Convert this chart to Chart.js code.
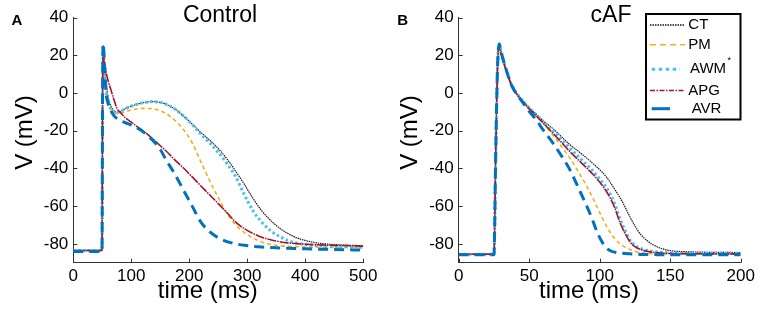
<!DOCTYPE html>
<html>
<head>
<meta charset="utf-8">
<script src="https://cdn.jsdelivr.net/npm/chart.js@4/dist/chart.umd.min.js"></script>
<style>
  html, body { margin: 0; padding: 0; background: #fff; }
  #wrap { position: relative; width: 765px; height: 314px; overflow: hidden; }
  .panel { position: absolute; top: 0; height: 314px; }
  #panelA { left: 0; width: 380px; }
  #panelB { left: 380px; width: 385px; }
</style>
</head>
<body>
<div id="wrap">
  <div class="panel" id="panelA"><canvas id="chartA" width="380" height="314"></canvas></div>
  <div class="panel" id="panelB"><canvas id="chartB" width="385" height="314"></canvas></div>
</div>
<script>
// ---- data (time in ms, voltage in mV) ----
const seriesNames = ["CT", "PM", "AWM", "APG", "AVR"];

// panel A: Control
const timeA = [0, 49.5, 50.5, 51.5, 54, 57, 60, 65, 70, 75, 80, 90, 100, 110, 120, 135, 150, 160, 175, 190,
  205, 220, 235, 250, 265, 280, 295, 310, 325, 340, 355, 370, 385, 400, 420, 450, 500];
const ctA = [-83.5, -83.5, 0, 25, 12, 4, -2, -7, -9.5, -10.2, -10, -8.3, -7, -6, -5.2, -4.6, -5, -6, -8.5, -12.2,
  -16.5, -21, -25, -29.5, -35, -41.5, -48.5, -56, -62.5, -67.5, -71.5, -74.5, -76.8, -78.2, -79.5, -80.4, -81];
const pmA = [-83.5, -83.5, 0, 21, 8, 0, -5, -9, -10.5, -11, -10.8, -10, -9, -8.4, -8.2, -8.3, -9.5, -11, -14.5, -19.4,
  -26.5, -36.5, -46.5, -55.5, -64, -70, -74, -77, -79, -80.3, -81, -81.3, -81.5, -81.7, -81.8, -81.9, -82];
const awmA = [-83.5, -83.5, 0, 25, 8, 0, -5, -8.5, -10, -10.5, -10, -8.3, -7, -6, -5.2, -4.6, -5, -6, -8.5, -12.2,
  -16.8, -21.8, -26.5, -31.5, -37.5, -44.5, -54, -62.5, -68.5, -73, -76, -78.2, -79.6, -80.3, -80.9, -81.3, -81.7];
const apgA = [-83.5, -83.5, 0, 22, 16, 10.5, 6.5, 1.5, -3.5, -8, -10, -13.2, -15.5, -17.8, -20, -23.8, -28, -30.8, -35.5, -39.8,
  -44.5, -49.3, -54, -58.7, -63.5, -68.5, -72, -74.5, -76.5, -77.8, -78.8, -79.5, -79.9, -80.2, -80.5, -80.8, -81.2];
const avrA = [-84, -84, 0, 26, 14, -1, -5.5, -9.5, -12, -13.5, -14.5, -15.8, -17, -18.5, -20.5, -24.5, -30, -35.5, -43, -51.5,
  -60, -68.5, -73.5, -76.8, -78.8, -80, -80.8, -81.3, -81.7, -82, -82.2, -82.4, -82.5, -82.6, -82.8, -83, -83.3];

// panel B: cAF
const timeB = [0, 25, 26.3, 27.6, 28.8, 30, 33, 37.5, 42, 46, 50, 55, 60, 67, 73, 79, 85, 91, 95, 98,
  101.5, 105, 108, 111, 114, 118, 121.5, 125, 129, 134, 138, 144, 150, 162, 180, 200];
const ctB = [-85.5, -85.5, -30, 15, 26, 22, 14, 4.5, -1, -4.5, -7.8, -11.3, -14.8, -19, -23.3, -27.5, -31, -34.7, -37.3, -39.3,
  -41.8, -44.8, -48, -51.5, -55, -60.5, -65.8, -70.5, -75, -78.5, -80.6, -82.5, -83.6, -84.2, -84.5, -84.6];
const pmB = [-85.5, -85.5, -30, 15, 25.5, 21.5, 13.8, 4.2, -1.3, -4.9, -8.4, -12.2, -16.2, -22.5, -28.5, -34.7, -42, -49.7, -55.5, -60.3,
  -65.8, -70.9, -74.5, -77.5, -79.7, -81.8, -83, -84, -84.6, -85, -85.2, -85.3, -85.4, -85.5, -85.5, -85.5];
const awmB = [-85.5, -85.5, -30, 15, 26, 22, 14, 4.5, -1.2, -4.7, -8, -11.6, -15.3, -20.2, -24.8, -29.4, -33.8, -38.2, -41.2, -43.8,
  -47, -50.5, -54.5, -59.5, -66, -73, -78, -80.8, -82.4, -83.5, -84, -84.5, -84.8, -85, -85, -85];
const apgB = [-85.5, -85.5, -30, 15, 25, 21, 13.5, 4, -1.5, -5, -8.5, -12.2, -16, -21.5, -26.3, -31.2, -35.6, -40, -43, -45.5,
  -48.7, -52.5, -56.5, -61.5, -68, -74.5, -79, -81.5, -83, -84, -84.5, -84.9, -85.1, -85.2, -85.3, -85.3];
const avrB = [-85.8, -85.8, -30, 15, 26, 22, 14, 4, -1.6, -5.6, -9.7, -14.3, -19.7, -26.7, -33.5, -40.9, -50.5, -60.3, -67.5, -73.5,
  -78.8, -82.4, -83.8, -84.5, -84.8, -85.1, -85.3, -85.5, -85.6, -85.7, -85.7, -85.8, -85.8, -85.8, -85.8, -85.8];

const xTicksA = [0, 100, 200, 300, 400, 500];
const xTicksB = [0, 50, 100, 150, 200];
const yTicks = [-80, -60, -40, -20, 0, 20, 40];

// ---- look ----
const FONT = "'Liberation Sans', Arial, Helvetica, sans-serif";
const AXIS_COLOR = "#333";

const styles = {
  CT:  { color: "#1a1a1a", width: 1.2, dash: [1.5, 0.8],        order: 4 },
  PM:  { color: "#EDB120", width: 1.6, dash: [4, 3],            order: 3 },
  AWM: { color: "#4DBEEE", width: 3,   dash: [2.5, 2.5],        order: 2 },
  APG: { color: "#A2142F", width: 1.6, dash: [9, 1, 1.5, 1],    order: 1 },
  AVR: { color: "#0072BD", width: 3,   dash: [10, 6],           order: 0 }
};

function toPoints(times, values) {
  return times.map((t, i) => ({ x: t, y: values[i] }));
}

function makeDatasets(times, valueLists) {
  return seriesNames.map((name, i) => {
    const s = styles[name];
    return {
      label: name,
      data: toPoints(times, valueLists[i]),
      borderColor: s.color,
      borderWidth: s.width,
      borderDash: s.dash,
      borderCapStyle: "butt",
      pointRadius: 0,
      fill: false,
      cubicInterpolationMode: "monotone",
      order: s.order
    };
  });
}

// inward tick marks like the original figure
const inwardTicks = {
  id: "inwardTicks",
  afterDraw(chart) {
    const { ctx, chartArea, scales } = chart;
    ctx.save();
    ctx.strokeStyle = AXIS_COLOR;
    ctx.lineWidth = 1;
    ctx.beginPath();
    scales.x.ticks.forEach(t => {
      const px = Math.round(scales.x.getPixelForValue(t.value)) + 0.5;
      ctx.moveTo(px, chartArea.bottom);
      ctx.lineTo(px, chartArea.bottom - 4);
    });
    scales.y.ticks.forEach(t => {
      const py = Math.round(scales.y.getPixelForValue(t.value)) + 0.5;
      ctx.moveTo(chartArea.left, py);
      ctx.lineTo(chartArea.left + 4, py);
    });
    ctx.stroke();
    ctx.restore();
  }
};

// panel letter, title and axis titles
function textPlugin(cfg) {
  return {
    id: "panelText",
    afterDraw(chart) {
      const ctx = chart.ctx;
      ctx.save();
      ctx.fillStyle = "#000";
      ctx.textBaseline = "alphabetic";

      ctx.font = "bold 15px " + FONT;
      ctx.textAlign = "left";
      ctx.fillText(cfg.letter, cfg.letterX, 25);

      ctx.font = "23px " + FONT;
      ctx.textAlign = "center";
      ctx.fillText(cfg.title, cfg.titleX, 21.5);

      ctx.font = "24px " + FONT;
      ctx.fillText("time (ms)", cfg.xTitleX, 298);

      ctx.translate(cfg.yTitleX, 132.5);
      ctx.rotate(-Math.PI / 2);
      ctx.fillText("V (mV)", 0, 0);
      ctx.restore();
    }
  };
}

// legend box drawn inside panel B
const legendPlugin = {
  id: "boxLegend",
  afterDraw(chart) {
    const ctx = chart.ctx;
    const rows = [
      { name: "CT",  x1: 270,   x2: 305, y: 25,   tx: 308.3, dash: [1.5, 1] },
      { name: "PM",  x1: 270,   x2: 305, y: 44.7, tx: 308.3, dash: [6, 4] },
      { name: "AWM", x1: 271.7, x2: 300, y: 69.2, tx: 310,   dash: [3.5, 3.5] },
      { name: "APG", x1: 270,   x2: 305, y: 90.5, tx: 308.3, dash: [5, 1.5, 1.5, 1.5] },
      { name: "AVR", x1: 271.7, x2: 290, y: 108.7, tx: 311.7, dash: [] }
    ];
    ctx.save();
    ctx.fillStyle = "#fff";
    ctx.fillRect(266, 14, 94.5, 105.5);
    ctx.strokeStyle = "#000";
    ctx.lineWidth = 2;
    ctx.strokeRect(266, 14, 94.5, 105.5);

    rows.forEach(r => {
      const s = styles[r.name];
      ctx.beginPath();
      ctx.strokeStyle = s.color;
      ctx.lineWidth = r.name === "CT" ? 1.5 : s.width;
      ctx.setLineDash(r.dash);
      ctx.moveTo(r.x1, r.y);
      ctx.lineTo(r.x2, r.y);
      ctx.stroke();
      ctx.setLineDash([]);
      ctx.fillStyle = "#000";
      ctx.font = "15px " + FONT;
      ctx.textAlign = "left";
      ctx.textBaseline = "middle";
      ctx.fillText(r.name, r.tx, r.y);
    });
    ctx.font = "9px " + FONT;
    ctx.fillText("*", 347.5, 61);
    ctx.restore();
  }
};

function makeChart(canvasId, p) {
  return new Chart(document.getElementById(canvasId), {
    type: "line",
    data: { datasets: makeDatasets(p.times, p.values) },
    options: {
      responsive: false,
      animation: false,
      events: [],
      layout: { padding: { top: 17.5, right: p.padRight, bottom: 0, left: 0 } },
      plugins: { legend: { display: false }, tooltip: { enabled: false }, title: { display: false } },
      scales: {
        x: {
          type: "linear",
          min: p.xTicks[0],
          max: p.xTicks[p.xTicks.length - 1],
          grid: { display: false, drawTicks: false },
          border: { display: true, color: AXIS_COLOR, width: 1 },
          ticks: { color: "#000", font: { family: FONT, size: 17 }, padding: 3, maxRotation: 0, autoSkip: false },
          afterBuildTicks: s => { s.ticks = p.xTicks.map(v => ({ value: v })); },
          afterFit: s => { s.height = 51.3; s.paddingLeft = 0; s.paddingRight = 0; }
        },
        y: {
          type: "linear",
          min: -90,
          max: 40,
          grid: { display: false, drawTicks: false },
          border: { display: true, color: AXIS_COLOR, width: 1 },
          ticks: { color: "#000", font: { family: FONT, size: 17 }, padding: 5, autoSkip: false },
          afterBuildTicks: s => { s.ticks = yTicks.map(v => ({ value: v })); },
          afterFit: s => { s.width = p.yWidth; s.paddingTop = 0; s.paddingBottom = 0; }
        }
      }
    },
    plugins: p.plugins
  });
}

makeChart("chartA", {
  times: timeA,
  values: [ctA, pmA, awmA, apgA, avrA],
  xTicks: xTicksA,
  padRight: 16.7,
  yWidth: 73.3,
  plugins: [inwardTicks, textPlugin({ letter: "A", letterX: 11.5, title: "Control", titleX: 220, xTitleX: 207.8, yTitleX: 32 })]
});

makeChart("chartB", {
  times: timeB,
  values: [ctB, pmB, awmB, apgB, avrB],
  xTicks: xTicksB,
  padRight: 24.3,
  yWidth: 78.7,
  plugins: [inwardTicks, textPlugin({ letter: "B", letterX: 17.3, title: "cAF", titleX: 231, xTitleX: 209, yTitleX: 37 }), legendPlugin]
});
</script>
</body>
</html>
